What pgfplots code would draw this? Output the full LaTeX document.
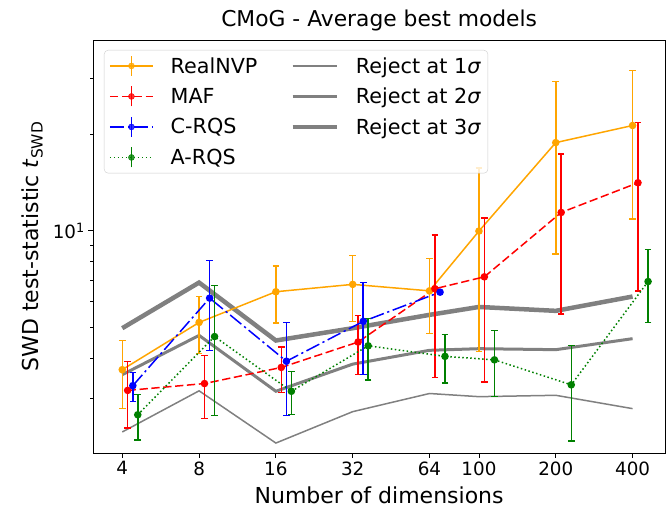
\documentclass[border=0pt]{standalone}
\usepackage{fontspec}
\setmainfont{DejaVu Sans}
\usepackage{pgfplots}
\usepackage{pgfplotstable}
\pgfplotsset{compat=1.18}

\definecolor{cOrange}{RGB}{255,165,0}
\definecolor{cRed}{RGB}{255,0,0}
\definecolor{cBlue}{RGB}{0,0,255}
\definecolor{cGreen}{RGB}{0,128,0}
\definecolor{cGray}{RGB}{128,128,128}

% x  y  top  bot
\pgfplotstableread{
x   y     top    bot
4   3.68  4.54   2.78
8   5.17  6.23   4.13
16  6.45  7.77   5.15
32  6.80  8.37   5.21
64  6.49  8.18   4.77
100 9.98  15.70  4.20
200 18.87 29.3   8.46
400 21.34 31.78  10.88
}\realnvp
\pgfplotstableread{
x   y     top    bot
4   3.17  3.91   2.42
8   3.33  4.07   2.59
16  3.74  4.33   3.12
32  4.49  5.43   3.55
64  6.59  9.70   3.48
100 7.18  10.96  3.37
200 11.41 17.37  5.49
400 14.13 21.8   6.49
}\maf
\pgfplotstableread{
x   y     top    bot
4   3.28  3.61   2.93
8   6.16  8.06   4.23
16  3.91  5.17   2.64
32  5.21  6.89   3.55
64  6.43  6.43   6.43
}\crqs
\pgfplotstableread{
x   y     top    bot
4   2.66  3.07   2.22
8   4.67  6.73   2.64
16  3.15  3.64   2.66
32  4.37  5.31   3.42
64  4.05  4.73   3.34
100 3.95  4.87   3.03
200 3.30  4.39   2.20
400 6.94  8.72   5.17
}\arqs
\pgfplotstableread{
x   s1    s2    s3
4   2.35  3.55  4.96
8   3.16  4.71  6.89
16  2.17  3.15  4.54
32  2.72  3.83  4.96
64  3.10  4.23  5.46
100 3.03  4.28  5.78
200 3.06  4.25  5.62
400 2.78  4.60  6.23
}\reject

\pgfplotsset{
  errs/.style={
    line width=1.5pt, mark=*, mark size=3pt, mark options={solid}, forget plot,
    /pgfplots/error bars/y dir=both,
    /pgfplots/error bars/y explicit,
    /pgfplots/error bars/error bar style={line width=1.5pt, solid},
    /pgfplots/error bars/error mark options={line width=1.3pt, mark size=3.3pt, solid, rotate=90},
  },
}

\begin{document}
\begin{tikzpicture}
\begin{axis}[
  name=ax,
  scale only axis, width=571.7pt, height=413pt,
  xmode=log, ymode=log,
  xmin=3.08, xmax=536, ymin=2.02, ymax=39.5,
  xtick={4,8,16,32,64,100,200,400},
  xticklabels={4,8,16,32,64,100,200,400},
  minor xtick={},
  ytick={10}, yticklabels={10\textsuperscript{1}},
  minor ytick={3,4,5,6,7,8,9,20,30},
  tick pos=left, tick align=outside,
  major tick length=5pt, minor tick length=3pt,
  every tick/.style={black, line width=0.8pt},
  minor tick style={black, line width=0.6pt},
  axis line style={line width=0.8pt},
  ticklabel style={font=\fontsize{18.3}{20}\selectfont},
  title={CMoG - Average best models},
  title style={at={(axis description cs:0.5,1.019)}, anchor=base, font=\fontsize{21.8}{24}\selectfont},
  xlabel={Number of dimensions},
  xlabel style={at={(axis description cs:0.5,-0.1211)}, anchor=base, font=\fontsize{22}{24}\selectfont},
  ylabel={SWD test-statistic \textit{t}\textsubscript{SWD}},
  ylabel style={at={(axis description cs:-0.0962,0.5)}, anchor=base, font=\fontsize{22}{24}\selectfont},
  legend columns=2,
  legend cell align=left,
  legend style={at={(axis description cs:0.0187,0.9758)}, anchor=north west,
    draw=black!20, rounded corners=4pt, fill=white, fill opacity=0.8, text opacity=1,
    font=\fontsize{20.7}{24}\selectfont, row sep=9pt, inner sep=5pt,
    /tikz/every odd column/.append style={column sep=15pt},
    /tikz/every even column/.append style={column sep=31pt}},
]
% rejection thresholds
\addplot[cGray, line width=1.5pt, forget plot] table[x=x, y=s1] {\reject};
\addplot[cGray, line width=3pt, forget plot] table[x=x, y=s2] {\reject};
\addplot[cGray, line width=4.5pt, forget plot] table[x=x, y=s3] {\reject};

% models, offset sideways as in the original
\addplot[cOrange, errs] table[x expr=\thisrow{x}*1, y=y,
  y error plus expr=\thisrow{top}-\thisrow{y},
  y error minus expr=\thisrow{y}-\thisrow{bot}] {\realnvp};
\addplot[cRed, dash pattern=on 8.3pt off 3.6pt, errs] table[x expr=\thisrow{x}*1.05, y=y,
  y error plus expr=\thisrow{top}-\thisrow{y},
  y error minus expr=\thisrow{y}-\thisrow{bot}] {\maf};
\addplot[cBlue, dash pattern=on 14.4pt off 3.6pt on 2.25pt off 3.6pt, errs] table[x expr=\thisrow{x}*1.1, y=y,
  y error plus expr=\thisrow{top}-\thisrow{y},
  y error minus expr=\thisrow{y}-\thisrow{bot}] {\crqs};
\addplot[cGreen, dash pattern=on 1.5pt off 2.5pt, errs] table[x expr=\thisrow{x}*1.15, y=y,
  y error plus expr=\thisrow{top}-\thisrow{y},
  y error minus expr=\thisrow{y}-\thisrow{bot}] {\arqs};

% legend, row by row
\addlegendimage{legend image code/.code={
  \draw[cOrange, line width=1.5pt] (0pt,0pt) -- (43pt,0pt);
  \draw[cOrange, line width=1.5pt] (21.5pt,-10pt) -- (21.5pt,10pt);
  \fill[cOrange] (21.5pt,0pt) circle (3pt);}}
\addlegendentry{RealNVP}
\addlegendimage{legend image code/.code={
  \draw[cGray, line width=1.5pt] (0pt,0pt) -- (44pt,0pt);}}
\addlegendentry{Reject at 1\textit{σ}}
\addlegendimage{legend image code/.code={
  \draw[cRed, line width=1.5pt, dash pattern=on 8.3pt off 3.6pt] (0pt,0pt) -- (43pt,0pt);
  \draw[cRed, line width=1.5pt] (21.5pt,-10pt) -- (21.5pt,10pt);
  \fill[cRed] (21.5pt,0pt) circle (3pt);}}
\addlegendentry{MAF}
\addlegendimage{legend image code/.code={
  \draw[cGray, line width=3pt] (0pt,0pt) -- (44pt,0pt);}}
\addlegendentry{Reject at 2\textit{σ}}
\addlegendimage{legend image code/.code={
  \draw[cBlue, line width=1.5pt, dash pattern=on 14.4pt off 3.6pt on 2.25pt off 3.6pt] (0pt,0pt) -- (43pt,0pt);
  \draw[cBlue, line width=1.5pt] (21.5pt,-10pt) -- (21.5pt,10pt);
  \fill[cBlue] (21.5pt,0pt) circle (3pt);}}
\addlegendentry{C-RQS}
\addlegendimage{legend image code/.code={
  \draw[cGray, line width=4.5pt] (0pt,0pt) -- (44pt,0pt);}}
\addlegendentry{Reject at 3\textit{σ}}
\addlegendimage{legend image code/.code={
  \draw[cGreen, line width=1.5pt, dash pattern=on 1.5pt off 2.5pt] (0pt,0pt) -- (43pt,0pt);
  \draw[cGreen, line width=1.5pt] (21.5pt,-10pt) -- (21.5pt,10pt);
  \fill[cGreen] (21.5pt,0pt) circle (3pt);}}
\addlegendentry{A-RQS}
\end{axis}
\pgfresetboundingbox
\path[use as bounding box] ([xshift=-93.3pt,yshift=-56pt]ax.south west) rectangle ([xshift=1pt,yshift=40pt]ax.north east);
\end{tikzpicture}
\end{document}
